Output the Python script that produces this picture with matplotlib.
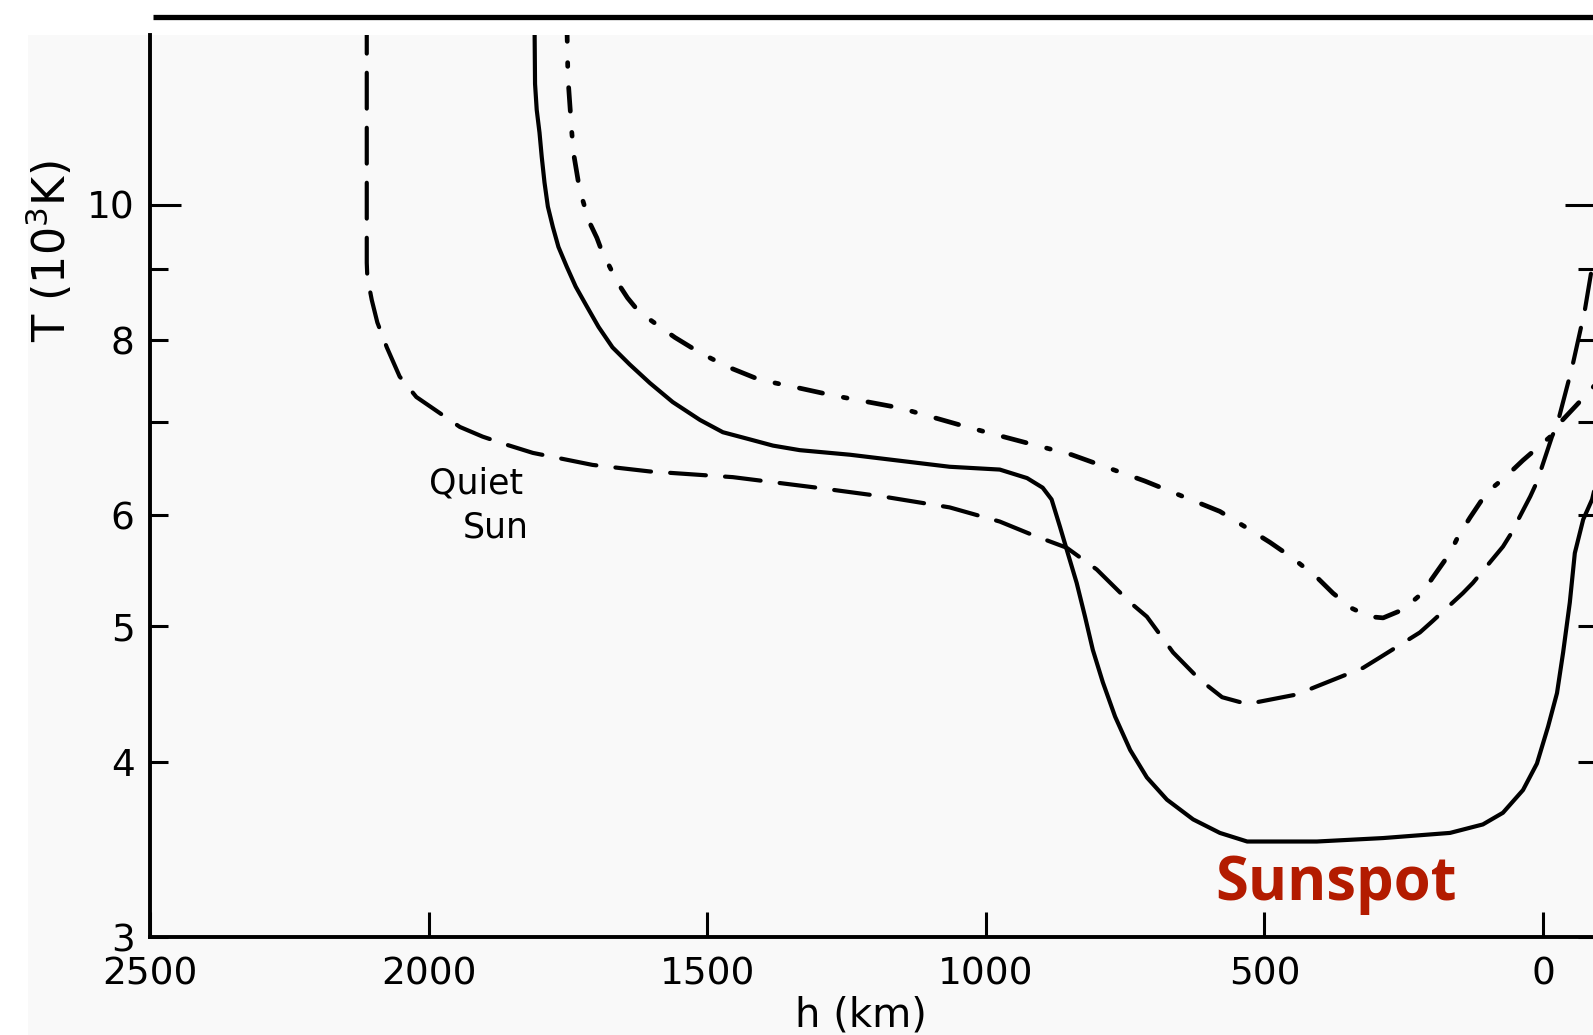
import matplotlib
matplotlib.use("Agg")
import matplotlib.pyplot as plt
from matplotlib.lines import Line2D
from matplotlib.patches import Rectangle

# ---------------- data (h in km, T in 10^3 K) ----------------
quiet_h = [2111, 2111, 2110, 2102, 2092, 2075, 2052, 2022, 1980, 1944,
           1903, 1860, 1813, 1706, 1603, 1454, 1303, 1185, 1065, 975,
           916, 855, 801, 741, 711, 664, 616, 576, 531, 442,
           406, 323, 293, 221, 199, 144, 126, 72, 59, 23,
           11, -16, -25, -52, -75, -88, -100]
quiet_T = [13.6, 9.09, 8.88, 8.55, 8.24, 7.91, 7.54, 7.29, 7.10, 6.94,
           6.83, 6.74, 6.65, 6.52, 6.45, 6.39, 6.28, 6.19, 6.08, 5.94,
           5.81, 5.69, 5.49, 5.20, 5.08, 4.79, 4.58, 4.45, 4.40, 4.47,
           4.53, 4.67, 4.75, 4.95, 5.04, 5.28, 5.37, 5.70, 5.81, 6.19,
           6.34, 6.83, 6.96, 7.65, 8.41, 9.03, 9.35]

spot_h = [1810, 1809, 1806, 1801, 1797, 1792, 1786, 1777, 1767, 1752,
          1736, 1716, 1695, 1670, 1639, 1603, 1562, 1513, 1472, 1424,
          1382, 1334, 1244, 1065, 975, 926, 898, 882, 867, 853,
          837, 822, 808, 790, 768, 741, 711, 675, 628, 580,
          531, 406, 287, 167, 108, 72, 36, 11, -9, -25,
          -36, -48, -57, -72, -88, -100]
spot_T = [13.6, 12.2, 11.69, 11.26, 10.82, 10.37, 9.97, 9.64, 9.33, 9.03,
          8.74, 8.46, 8.18, 7.91, 7.69, 7.46, 7.23, 7.02, 6.88, 6.80,
          6.73, 6.68, 6.63, 6.50, 6.47, 6.38, 6.28, 6.16, 5.89, 5.64,
          5.37, 5.08, 4.81, 4.56, 4.31, 4.08, 3.90, 3.76, 3.64, 3.56,
          3.51, 3.51, 3.53, 3.56, 3.61, 3.68, 3.82, 3.99, 4.24, 4.48,
          4.79, 5.20, 5.64, 5.96, 6.16, 6.45]

dd_h = [1752, 1750, 1743, 1740, 1734, 1729, 1720, 1711, 1698, 1688,
        1675, 1661, 1643, 1625, 1603, 1558, 1513, 1463, 1406, 1343,
        1275, 1154, 1034, 975, 846, 715, 580, 526, 490, 451,
        406, 377, 343, 311, 287, 251, 217, 199, 167, 153,
        131, 101, 68, 36, -13, -35, -61, -90, -100]
dd_T = [13.6, 12.34, 11.26, 10.89, 10.54, 10.25, 9.97, 9.71, 9.47, 9.24,
        9.03, 8.80, 8.58, 8.41, 8.28, 8.04, 7.84, 7.66, 7.50, 7.41,
        7.31, 7.16, 6.94, 6.84, 6.63, 6.35, 6.04, 5.86, 5.74, 5.60,
        5.42, 5.28, 5.15, 5.08, 5.07, 5.14, 5.28, 5.41, 5.64, 5.79,
        5.98, 6.23, 6.39, 6.57, 6.83, 7.02, 7.20, 7.41, 7.50]

h_ticks = [2500, 2000, 1500, 1000, 500, 0]
h_tick_labels = ["2500", "2000", "1500", "1000", "500", "0"]
T_major = [10]
T_major_labels = ["10"]
T_minor = [3, 4, 5, 6, 7, 8, 9]
T_minor_labels = ["3", "4", "5", "6", "", "8", ""]

# ---------------- figure ----------------
W, H = 1593, 1035
fig = plt.figure(figsize=(W / 100, H / 100), dpi=100)
fig.patch.set_facecolor("white")

# light scan background
fig.add_artist(Rectangle((28 / W, 0), 1, 1 - 35 / H, transform=fig.transFigure,
                         facecolor="#f9f9f9", edgecolor="none", zorder=0))
# heavy rule at top
fig.add_artist(Line2D([153 / W, 1.0], [1 - 16.5 / H, 1 - 16.5 / H],
                      transform=fig.transFigure, color="black", lw=3.8,
                      solid_capstyle="butt"))

ax = fig.add_axes([150 / W, (H - 937) / H, (1596 - 150) / W, (937 - 35) / H])
ax.set_facecolor("none")

lw = 3.0
ax.plot(quiet_h, quiet_T, color="black", lw=lw, dashes=(8.6, 4.6),
        dash_capstyle="round")
ax.plot(spot_h, spot_T, color="black", lw=lw, solid_capstyle="round",
        solid_joinstyle="round")
ax.plot(dd_h, dd_T, color="black", lw=3.4, dashes=(5.0, 4.5, 0.8, 4.5),
        dash_capstyle="round")

ax.set_yscale("log")
ax.set_xlim(2500, -95)
ax.set_ylim(3, 13.22)

ax.set_xticks(h_ticks, h_tick_labels)
ax.set_yticks(T_major, T_major_labels)
ax.set_yticks(T_minor, T_minor_labels, minor=True)
ax.xaxis.set_minor_locator(matplotlib.ticker.NullLocator())

ax.tick_params(axis="x", which="major", direction="in", length=18, width=2.2,
               pad=14, labelsize=27, top=False)
ax.tick_params(axis="y", which="major", direction="in", length=22, width=2.2,
               pad=11, labelsize=27, right=True)
ax.tick_params(axis="y", which="minor", direction="in", length=13, width=2.2,
               pad=11, labelsize=27, right=True)

for s in ["left", "bottom", "right"]:
    ax.spines[s].set_linewidth(2.8)
ax.spines["top"].set_visible(False)

ax.set_xlabel("h (km)", fontsize=29)
ax.xaxis.label.set_va("center")
ax.xaxis.set_label_coords((861 - 150) / 1446, (937 - 1015) / 902)

ax.set_ylabel("T (10$^3$K)", fontsize=32)
ax.yaxis.label.set_va("center")
ax.yaxis.set_label_coords((50 - 150) / 1446, (937 - 251) / 902)

ax.text(1914, 6.32, "Quiet", fontsize=25, ha="center", va="center")
ax.text(1880, 5.88, "Sun", fontsize=25, ha="center", va="center")

ax.text(372, 3.19, "Sunspot", fontsize=43, fontweight="bold",
        family=["Open Sans", "Noto Sans", "DejaVu Sans"],
        color="#b31b00", ha="center", va="baseline")

fig.savefig("out.png", dpi=100)
